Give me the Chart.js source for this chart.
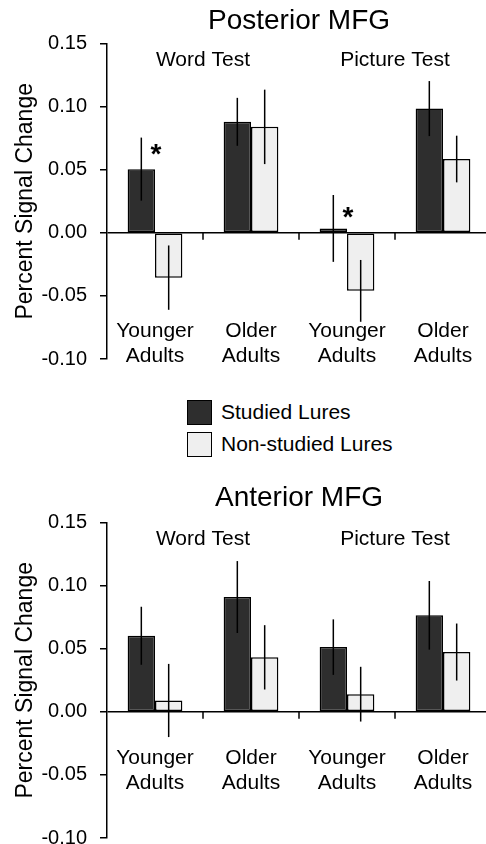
<!DOCTYPE html>
<html>
<head>
<meta charset="utf-8">
<script src="https://cdn.jsdelivr.net/npm/chart.js@4.4.1/dist/chart.umd.min.js"></script>
<style>
  html, body { margin: 0; padding: 0; background: #fff; }
  body { width: 486px; height: 844px; overflow: hidden; position: relative; font-family: "Liberation Sans", Arial, sans-serif; }
  .panel { position: absolute; left: 0; width: 492px; }
  #topPanel { top: 0; height: 370px; }
  #bottomPanel { top: 475px; height: 380px; }
  .legend { position: absolute; left: 187px; top: 399px; font-size: 21px; color: #000; }
  .legend div { display: flex; align-items: center; height: 26px; margin-bottom: 6px; }
  .legend .box { width: 23px; height: 23px; border: 1.5px solid #000; margin-right: 9px; }
</style>
</head>
<body>
<div class="panel" id="topPanel"><canvas id="posterior"></canvas></div>
<div class="legend">
  <div><span class="box" style="background:#2e2e2e"></span>Studied Lures</div>
  <div><span class="box" style="background:#efefef"></span>Non-studied Lures</div>
</div>
<div class="panel" id="bottomPanel"><canvas id="anterior"></canvas></div>
<script>
// data
const categories = [['Younger', 'Adults'], ['Older', 'Adults'], ['Younger', 'Adults'], ['Older', 'Adults']];
const groupLabels = ['Word Test', 'Picture Test'];
const seriesNames = ['Studied Lures', 'Non-studied Lures'];
const yTicks = [-0.10, -0.05, 0, 0.05, 0.10, 0.15];

const postStudied = [0.0505, 0.088, 0.0035, 0.0985];
const postStudiedErr = [0.025, 0.019, 0.0265, 0.0218];
const postNonStudied = [-0.0355, 0.084, -0.046, 0.0585];
const postNonStudiedErr = [0.0255, 0.0295, 0.0245, 0.0185];
const postSig = [0.066, null, 0.016, null];

const antStudied = [0.0603, 0.091, 0.0513, 0.0765];
const antStudiedErr = [0.023, 0.0285, 0.022, 0.0272];
const antNonStudied = [0.009, 0.0432, 0.014, 0.0474];
const antNonStudiedErr = [0.029, 0.0255, 0.0217, 0.0226];
const antSig = [null, null, null, null];

const FONT = '"Liberation Sans", Arial, sans-serif';
Chart.defaults.font.family = FONT;
Chart.defaults.color = '#000';

// error bars, zero-line ticks, asterisks and the text inside the plot
const decorations = {
    id: 'decorations',
    afterDatasetsDraw(chart, args, opts)
    {
        const { ctx, chartArea } = chart;
        const x = chart.scales.x, y = chart.scales.y;
        const n = chart.data.labels.length;
        ctx.save();
        ctx.strokeStyle = '#000';
        ctx.lineWidth = 1.5;

        chart.data.datasets.forEach((ds, i) =>
        {
            chart.getDatasetMeta(i).data.forEach((bar, j) =>
            {
                const v = ds.data[j], e = ds.errors[j];
                ctx.beginPath();
                ctx.moveTo(bar.x, y.getPixelForValue(v + e));
                ctx.lineTo(bar.x, y.getPixelForValue(v - e));
                ctx.stroke();
            });
        });

        const y0 = y.getPixelForValue(0);
        for (let j = 1; j < n; j++)
        {
            const xb = (x.getPixelForValue(j - 1) + x.getPixelForValue(j)) / 2;
            ctx.beginPath();
            ctx.moveTo(xb, y0);
            ctx.lineTo(xb, y0 + 7);
            ctx.stroke();
        }

        ctx.fillStyle = '#000';
        ctx.textAlign = 'center';
        ctx.font = 'bold 28px ' + FONT;
        ctx.textBaseline = 'alphabetic';
        opts.sig.forEach((s, j) =>
        {
            if (s === null) return;
            ctx.fillText('*', x.getPixelForValue(j) + 1, y.getPixelForValue(s) + 13);
        });

        ctx.font = '21px ' + FONT;
        ctx.textBaseline = 'middle';
        const ly = y.getPixelForValue(opts.labelValue);
        chart.data.labels.forEach((lab, j) =>
        {
            lab.forEach((line, k) => ctx.fillText(line, x.getPixelForValue(j), ly + k * 25));
        });

        groupLabels.forEach((g, k) =>
        {
            const gx = (x.getPixelForValue(2 * k) + x.getPixelForValue(2 * k + 1)) / 2;
            ctx.fillText(g, gx, chartArea.top + 17);
        });
        ctx.restore();
    }
};

function makeChart(id, title, studied, studiedErr, non, nonErr, sig, labelValue, titleTop, titleBottom, padBottom)
{
    return new Chart(document.getElementById(id), {
        type: 'bar',
        data: {
            labels: categories,
            datasets: [
                {
                    label: seriesNames[0],
                    data: studied,
                    errors: studiedErr,
                    backgroundColor: '#2e2e2e',
                    borderColor: '#000',
                    borderWidth: 1.5,
                    borderSkipped: false,
                },
                {
                    label: seriesNames[1],
                    data: non,
                    errors: nonErr,
                    backgroundColor: '#efefef',
                    borderColor: '#000',
                    borderWidth: 1.5,
                    borderSkipped: false,
                }
            ]
        },
        options: {
            responsive: true,
            maintainAspectRatio: false,
            animation: false,
            layout: { padding: { left: 0, right: 1, top: 0, bottom: padBottom } },
            datasets: { bar: { categoryPercentage: 0.57, barPercentage: 1.0 } },
            plugins: {
                legend: { display: false },
                tooltip: { enabled: false },
                title: {
                    display: true,
                    fullSize: false,
                    text: title,
                    font: { size: 28, weight: 'normal' },
                    color: '#000',
                    padding: { top: titleTop, bottom: titleBottom }
                },
                decorations: { sig: sig, labelValue: labelValue }
            },
            scales: {
                x: { display: false },
                y: {
                    min: -0.10,
                    max: 0.15,
                    afterBuildTicks: (s) => { s.ticks = yTicks.map(v => ({ value: v })); },
                    afterFit: (s) =>
                    {
                        s.width = 107;
                        s.paddingTop = 0;
                        s.paddingBottom = 0;
                    },
                    ticks: {
                        font: { size: 20 },
                        color: '#000',
                        padding: 13,
                        callback: (v) => Number(v).toFixed(2)
                    },
                    grid: {
                        color: (c) => (c.tick && c.tick.value === 0) ? '#000' : 'rgba(0,0,0,0)',
                        tickColor: '#000',
                        lineWidth: 1.5,
                        tickLength: 7
                    },
                    border: { display: true, color: '#000', width: 1.5 },
                    title: {
                        display: true,
                        text: 'Percent Signal Change',
                        font: { size: 23 },
                        color: '#000',
                        padding: { top: 12, bottom: 0 }
                    }
                }
            }
        },
        plugins: [decorations]
    });
}

makeChart('posterior', 'Posterior MFG', postStudied, postStudiedErr, postNonStudied, postNonStudiedErr, postSig, -0.078, 4, 6, 11);
makeChart('anterior', 'Anterior MFG', antStudied, antStudiedErr, antNonStudied, antNonStudiedErr, antSig, -0.037, 6, 8, 17);
</script>
</body>
</html>
